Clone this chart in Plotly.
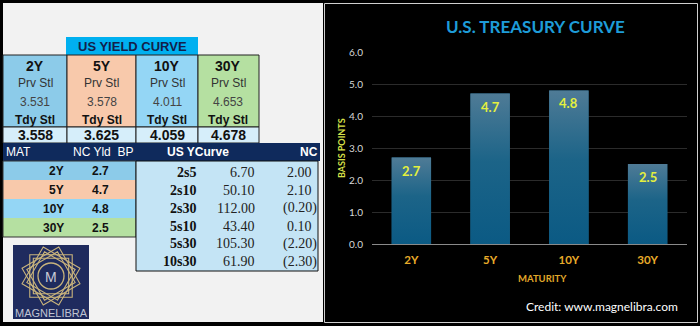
import math
import plotly.graph_objects as go

W, H = 700, 326

# ---------------- data ----------------
tenors = ["2Y", "5Y", "10Y", "30Y"]
prv_stl = [3.531, 3.578, 4.011, 4.653]
tdy_stl = [3.558, 3.625, 4.059, 4.678]
nc_bp = [2.7, 4.7, 4.8, 2.5]
spread_names = ["2s5", "2s10", "2s30", "5s10", "5s30", "10s30"]
spread_vals = [6.70, 50.10, 112.00, 43.40, 105.30, 61.90]
spread_nc = [2.00, 2.10, -0.20, 0.10, -2.20, -2.30]
y_ticks = [0, 1, 2, 3, 4, 5, 6]

tenor_colors = ["#8ccbe9", "#f8c9ab", "#94d6f5", "#b5e0a1"]

def px(x):
    return x / W

def py(y):
    return 1 - y / H

shapes = []
ann = []

def rect(x0, y0, x1, y1, fill, line=None, lw=1, layer="below"):
    shapes.append(dict(type="rect", xref="paper", yref="paper",
                       x0=px(x0), x1=px(x1), y0=py(y1), y1=py(y0),
                       fillcolor=fill,
                       line=dict(color=line if line else "rgba(0,0,0,0)", width=lw if line else 0),
                       layer=layer))

def text(x, y, s, size=12, color="#111", family="Liberation Sans", bold=False,
         xanchor="center", angle=0):
    ann.append(dict(xref="paper", yref="paper", x=px(x), y=py(y),
                    text=f"<b>{s}</b>" if bold else s, showarrow=False,
                    xanchor=xanchor, yanchor="middle", textangle=angle,
                    borderpad=0, borderwidth=0,
                    font=dict(size=size, color=color, family=family)))

# ---------------- left panel ----------------
rect(3, 3, 323, 322, "#f2f2f2")

# banner
rect(66, 37, 198, 55, "#00b0f0")
text(132, 46.5, "US YIELD CURVE", 13, "#13204a", bold=True)

col_edges = [3, 67, 136, 198, 259]
for i, t in enumerate(tenors):
    x0, x1 = col_edges[i], col_edges[i + 1]
    cx = (x0 + x1) / 2
    rect(x0, 55, x1, 127, tenor_colors[i], line="#222222", lw=1)
    rect(x0, 127, x1, 143, "#d6eefa", line="#222222", lw=1)
    text(cx, 65.5, t, 14, "#111", bold=True)
    text(cx, 83.5, "Prv Stl", 12, "#333")
    text(cx, 102, f"{prv_stl[i]:.3f}", 12, "#444")
    text(cx, 120, "Tdy Stl", 12, "#111", bold=True)
    text(cx, 135.5, f"{tdy_stl[i]:.3f}", 14, "#111", bold=True)

# navy band
rect(3, 143, 320, 161, "#0f2a5c")
text(6, 152, "MAT", 12, "#ffffff", xanchor="left")
text(73, 152, "NC Yld\u00a0 BP", 12, "#ffffff", xanchor="left")
text(167, 152, "US YCurve", 12, "#ffffff", bold=True, xanchor="left")
text(318, 152, "NC", 12, "#ffffff", bold=True, xanchor="right")

# maturity table
for i, t in enumerate(tenors):
    y0 = 161 + 19 * i
    rect(3, y0, 136, y0 + 19, tenor_colors[i])
    text(64, y0 + 9.8, t, 12, "#111", bold=True, xanchor="right")
    text(100, y0 + 9.8, f"{nc_bp[i]:.1f}", 12, "#111", bold=True)
rect(3, 161, 136, 237, "rgba(0,0,0,0)", line="#333333", lw=1)

# spread table
rect(136, 161, 318, 271, "#c4e4f5", line="#111111", lw=1)
for i, nm in enumerate(spread_names):
    cy = 172.3 + 17.9 * i
    text(196, cy, nm, 14, "#111", family="Liberation Serif", bold=True, xanchor="right")
    text(255, cy, f"{spread_vals[i]:.2f}", 14, "#222", family="Liberation Serif", xanchor="right")
    v = spread_nc[i]
    if v < 0:
        text(317, cy, f"({abs(v):.2f})", 14, "#222", family="Liberation Serif", xanchor="right")
    else:
        text(312, cy, f"{v:.2f}", 14, "#222", family="Liberation Serif", xanchor="right")

# logo
rect(13, 245, 89, 319, "#1f2b5e")
cxl, cyl = 51, 276
gold = "#c9b47c"
for R in (30, 25):
    for k in range(3):
        a0 = math.radians(15 + 30 * k)
        pts = []
        for j in range(4):
            a = a0 + j * math.pi / 2
            pts.append((cxl + R * math.cos(a), cyl + R * math.sin(a)))
        path = "M " + " L ".join(f"{px(x):.5f},{py(y):.5f}" for x, y in pts) + " Z"
        shapes.append(dict(type="path", xref="paper", yref="paper", path=path,
                           line=dict(color=gold, width=1.1), fillcolor="rgba(0,0,0,0)",
                           layer="below"))
shapes.append(dict(type="circle", xref="paper", yref="paper",
                   x0=px(cxl - 13), x1=px(cxl + 13), y0=py(cyl + 13), y1=py(cyl - 13),
                   line=dict(color=gold, width=1.3), fillcolor="#1f2b5e", layer="below"))
text(cxl, cyl + 1, "M", 14, "#c8cad6")
text(51, 313, "MAGNELIBRA", 11, "#c0c4d2")

# ---------------- chart panel ----------------
rect(324.5, 3.5, 697.5, 322.5, "rgba(0,0,0,0)", line="#cfcfcf", lw=1)

text(535, 27, "U.S. TREASURY CURVE", 17, "#1e9cd8", family="Lato", bold=True)
text(341, 148, "BASIS POINTS", 9, "#d8e24a", family="Lato", bold=True, angle=-90)
text(542, 278, "MATURITY", 9.5, "#e0a82a", family="Lato", bold=True)
text(678, 306, "Credit: www.magnelibra.com", 12, "#ffffff", family="Lato", xanchor="right")

pos = list(range(len(tenors)))
bar_w = 0.5

fig = go.Figure()
fig.add_trace(go.Bar(x=pos, y=nc_bp, width=bar_w, marker=dict(color="#1f6489", line=dict(width=0)),
                     customdata=tenors, hovertemplate="%{customdata}: %{y:.1f}<extra></extra>",
                     showlegend=False))
for i, v in enumerate(nc_bp):
    xl, xr = pos[i] - bar_w / 2, pos[i] + bar_w / 2
    fig.add_trace(go.Scatter(x=[xl, xl, xr, xr, xl], y=[0, v, v, 0, 0], mode="lines",
                             line=dict(width=0), fill="toself",
                             fillgradient=dict(type="vertical", start=0, stop=v,
                                               colorscale=[[0, "#0b5a84"], [0.55, "#1c6488"], [1, "#4f7b96"]]),
                             hoverinfo="skip", showlegend=False))

# value labels inside the bars, anchored to each bar's top through the axes
for i, v in enumerate(nc_bp):
    ann.append(dict(xref="x", yref="y", x=pos[i], y=v, text=f"<b>{v:.1f}</b>", showarrow=False,
                    xanchor="center", yanchor="top", yshift=-5, borderpad=0, borderwidth=0,
                    font=dict(color="#e4f03e", size=13, family="Lato")))

fig.update_layout(
    width=W, height=H, autosize=False,
    margin=dict(l=0, r=0, t=0, b=0, pad=0, autoexpand=False),
    paper_bgcolor="#000000", plot_bgcolor="rgba(0,0,0,0)",
    shapes=shapes, annotations=ann, showlegend=False,
    xaxis=dict(domain=[px(372), px(687)], range=[-0.5, 3.5], tickvals=pos, ticktext=[f"<b>{t}</b>" for t in tenors],
               showgrid=False, zeroline=False, showline=True, linecolor="#8a8a8a", linewidth=1,
               ticks="", ticklabelstandoff=5, automargin=False,
               tickfont=dict(color="#e8ab2a", size=11.5, family="Lato"), fixedrange=True),
    yaxis=dict(domain=[py(244), py(52)], range=[0, 6], tickvals=y_ticks, tickformat=".1f",
               showgrid=True, gridcolor="#2b2b2b", gridwidth=1, zeroline=False, showline=False,
               ticks="", ticklabelstandoff=8, automargin=False,
               tickfont=dict(color="#d9d9d9", size=10, family="Lato"), fixedrange=True),
)

fig.write_html("out.html", config={"displayModeBar": False})
